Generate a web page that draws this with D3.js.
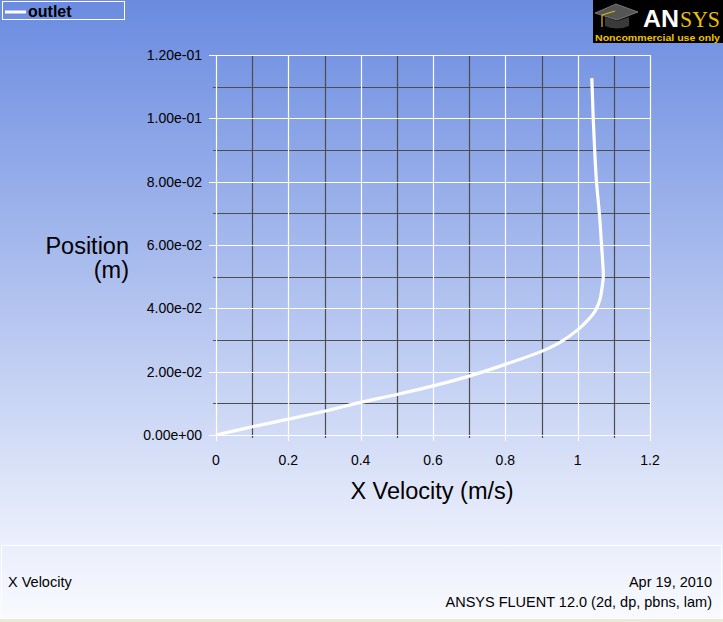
<!DOCTYPE html>
<html>
<head>
<meta charset="utf-8">
<script src="https://cdn.jsdelivr.net/npm/d3@7"></script>
<style>
  body { margin: 0; padding: 0; overflow: hidden; }
  svg { display: block; font-family: "Liberation Sans", Arial, sans-serif; }
</style>
</head>
<body>
<div id="chart"></div>
<script>
// outlet profile: x velocity (m/s) vs position (m)
var velocity = [0, 0.1, 0.2, 0.3, 0.4, 0.5, 0.6, 0.7, 0.8, 0.9, 0.95, 1.0, 1.03, 1.05, 1.062, 1.068, 1.071, 1.069, 1.066, 1.060, 1.052, 1.047, 1.043, 1.040, 1.039];
var position = [0, 0.0026, 0.0050, 0.0075, 0.0103, 0.0128, 0.0155, 0.0186, 0.0223, 0.0264, 0.0292, 0.0332, 0.0365, 0.0395, 0.0430, 0.0470, 0.0500, 0.0550, 0.0600, 0.0700, 0.0800, 0.0900, 0.1000, 0.1100, 0.1127];

var xTicks = [0, 0.2, 0.4, 0.6, 0.8, 1, 1.2];
var xMinor = [0.1, 0.3, 0.5, 0.7, 0.9, 1.1];
var yTicks = [0, 0.02, 0.04, 0.06, 0.08, 0.10, 0.12];
var yMinor = [0.01, 0.03, 0.05, 0.07, 0.09, 0.11];
var yTickLabels = ["0.00e+00", "2.00e-02", "4.00e-02", "6.00e-02", "8.00e-02", "1.00e-01", "1.20e-01"];

var W = 723, H = 622;

var svg = d3.select("#chart")
    .append("svg")
    .attr("width", W)
    .attr("height", H);

var defs = svg.append("defs");

var bg = defs.append("linearGradient")
    .attr("id", "bg")
    .attr("x1", 0).attr("y1", 0).attr("x2", 0).attr("y2", 1);
bg.append("stop").attr("offset", "0%").attr("stop-color", "rgb(106,139,224)");
bg.append("stop").attr("offset", "100%").attr("stop-color", "rgb(236,240,252)");

var foot = defs.append("linearGradient")
    .attr("id", "foot")
    .attr("x1", 0).attr("y1", 0).attr("x2", 0).attr("y2", 1);
foot.append("stop").attr("offset", "0%").attr("stop-color", "rgb(234,238,251)");
foot.append("stop").attr("offset", "100%").attr("stop-color", "rgb(250,251,255)");

svg.append("rect")
    .attr("width", W)
    .attr("height", 545)
    .attr("fill", "url(#bg)");

//Footer panel
svg.append("rect")
    .attr("x", 0).attr("y", 545)
    .attr("width", W).attr("height", H - 545)
    .attr("fill", "url(#foot)");
svg.append("rect")
    .attr("x", 1.5).attr("y", 545.5)
    .attr("width", W - 3).attr("height", 73)
    .attr("fill", "none")
    .attr("stroke", "#fff")
    .attr("stroke-width", 1);
svg.append("rect")
    .attr("x", 0).attr("y", 619)
    .attr("width", W).attr("height", 3)
    .attr("fill", "rgb(236,233,216)");

//Scales
var x = d3.scaleLinear().domain([0, 1.2]).range([216, 650]);
var y = d3.scaleLinear().domain([0, 0.12]).range([435, 55]);

var plot = svg.append("g");

//Minor grid (dark)
plot.selectAll(".vminor")
    .data(xMinor)
    .enter()
    .append("line")
    .attr("x1", d => Math.round(x(d)) + 0.5)
    .attr("x2", d => Math.round(x(d)) + 0.5)
    .attr("y1", y(0.12))
    .attr("y2", y(0) + 3)
    .attr("stroke", "#4d4d4d")
    .attr("stroke-width", 1.2);

plot.selectAll(".hminor")
    .data(yMinor)
    .enter()
    .append("line")
    .attr("x1", x(0) - 3)
    .attr("x2", x(1.2))
    .attr("y1", d => Math.round(y(d)) + 0.5)
    .attr("y2", d => Math.round(y(d)) + 0.5)
    .attr("stroke", "#4d4d4d")
    .attr("stroke-width", 1.2);

//Major grid (white)
plot.selectAll(".vmajor")
    .data(xTicks)
    .enter()
    .append("line")
    .attr("x1", d => Math.round(x(d)) + 0.5)
    .attr("x2", d => Math.round(x(d)) + 0.5)
    .attr("y1", y(0.12))
    .attr("y2", y(0) + 6)
    .attr("stroke", "#fff")
    .attr("stroke-width", 1.2);

plot.selectAll(".hmajor")
    .data(yTicks)
    .enter()
    .append("line")
    .attr("x1", x(0) - 7)
    .attr("x2", x(1.2))
    .attr("y1", d => Math.round(y(d)) + 0.5)
    .attr("y2", d => Math.round(y(d)) + 0.5)
    .attr("stroke", "#fff")
    .attr("stroke-width", 1.2);

//Tick labels
plot.selectAll(".xlab")
    .data(xTicks)
    .enter()
    .append("text")
    .attr("x", d => x(d))
    .attr("y", 465)
    .attr("text-anchor", "middle")
    .attr("font-size", 14)
    .attr("fill", "#000")
    .text(d => d3.format("")(d));

plot.selectAll(".ylab")
    .data(yTicks)
    .enter()
    .append("text")
    .attr("x", 202)
    .attr("y", d => y(d) + 5)
    .attr("text-anchor", "end")
    .attr("font-size", 14)
    .attr("fill", "#000")
    .text((d, i) => yTickLabels[i]);

//Axis titles
svg.append("text")
    .attr("x", 432)
    .attr("y", 499)
    .attr("text-anchor", "middle")
    .attr("font-size", 23.5)
    .attr("fill", "#000")
    .text("X Velocity (m/s)");

svg.append("text")
    .attr("x", 129)
    .attr("y", 254)
    .attr("text-anchor", "end")
    .attr("font-size", 23.5)
    .attr("fill", "#000")
    .text("Position");
svg.append("text")
    .attr("x", 129)
    .attr("y", 278)
    .attr("text-anchor", "end")
    .attr("font-size", 23.5)
    .attr("fill", "#000")
    .text("(m)");

//Profile curve
var pts = velocity.map((v, i) => [v, position[i]]);
var line = d3.line()
    .x(d => x(d[0]))
    .y(d => y(d[1]))
    .curve(d3.curveCatmullRom);

plot.append("path")
    .datum(pts)
    .attr("d", line)
    .attr("fill", "none")
    .attr("stroke", "#fff")
    .attr("stroke-width", 3.2);

//Legend
svg.append("rect")
    .attr("x", 2.5).attr("y", 1.5)
    .attr("width", 122).attr("height", 18)
    .attr("fill", "none")
    .attr("stroke", "#fff")
    .attr("stroke-width", 1);
svg.append("line")
    .attr("x1", 5).attr("x2", 26)
    .attr("y1", 12).attr("y2", 12)
    .attr("stroke", "#fff")
    .attr("stroke-width", 3);
svg.append("text")
    .attr("x", 28)
    .attr("y", 17)
    .attr("font-size", 16)
    .attr("font-weight", "bold")
    .attr("fill", "#000")
    .text("outlet");

//ANSYS badge
var logo = svg.append("g").attr("transform", "translate(593,0)");
logo.append("rect")
    .attr("width", 130).attr("height", 43)
    .attr("fill", "#000");
logo.append("path")
    .attr("d", "M2,13 L23,4 L45,12 L24,20 Z")
    .attr("fill", "#555")
    .attr("stroke", "#888")
    .attr("stroke-width", 0.8);
logo.append("path")
    .attr("d", "M12,17 L12,26 Q24,31 36,26 L36,17 L24,21 Z")
    .attr("fill", "#3a3a3a");
logo.append("line")
    .attr("x1", 22).attr("y1", 11)
    .attr("x2", 9).attr("y2", 15)
    .attr("stroke", "#e8c000")
    .attr("stroke-width", 1);
logo.append("line")
    .attr("x1", 9).attr("y1", 15)
    .attr("x2", 9).attr("y2", 27)
    .attr("stroke", "#e8c000")
    .attr("stroke-width", 1.2);
logo.append("text")
    .attr("x", 50)
    .attr("y", 27)
    .attr("font-size", 24)
    .attr("font-weight", "bold")
    .attr("fill", "#fff")
    .attr("textLength", 36)
    .attr("lengthAdjust", "spacingAndGlyphs")
    .text("AN");
logo.append("text")
    .attr("x", 87)
    .attr("y", 27)
    .attr("font-size", 24)
    .attr("font-family", "Liberation Serif, serif")
    .attr("fill", "#f0c000")
    .attr("textLength", 40)
    .attr("lengthAdjust", "spacingAndGlyphs")
    .text("SYS");
logo.append("text")
    .attr("x", 2)
    .attr("y", 41)
    .attr("font-size", 9.5)
    .attr("font-weight", "bold")
    .attr("fill", "#f0c000")
    .attr("textLength", 125)
    .attr("lengthAdjust", "spacingAndGlyphs")
    .text("Noncommercial use only");

//Footer texts
svg.append("text")
    .attr("x", 8)
    .attr("y", 587)
    .attr("font-size", 14.5)
    .attr("fill", "#000")
    .text("X Velocity");
svg.append("text")
    .attr("x", 712)
    .attr("y", 587)
    .attr("text-anchor", "end")
    .attr("font-size", 14.5)
    .attr("fill", "#000")
    .text("Apr 19, 2010");
svg.append("text")
    .attr("x", 712)
    .attr("y", 607)
    .attr("text-anchor", "end")
    .attr("font-size", 14.5)
    .attr("fill", "#000")
    .text("ANSYS FLUENT 12.0 (2d, dp, pbns, lam)");
</script>
</body>
</html>
